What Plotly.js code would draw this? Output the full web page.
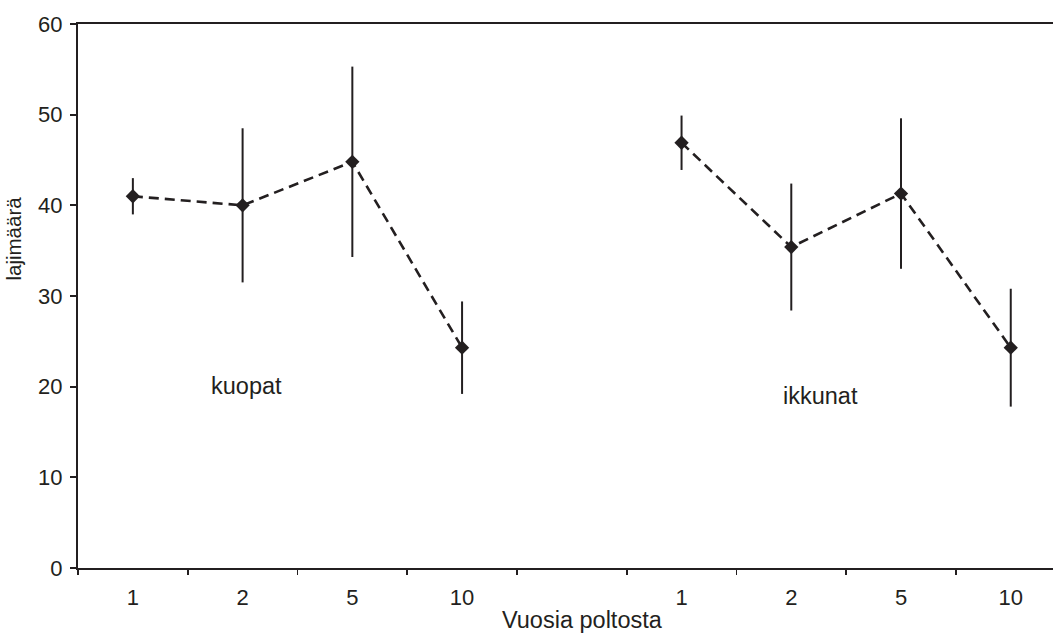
<!DOCTYPE html>
<html>
<head>
<meta charset="utf-8">
<script src="https://cdn.plot.ly/plotly-3.0.1.min.js"></script>
<style>html,body{margin:0;padding:0;background:#fff;}#chart{width:1053px;height:633px;}</style>
</head>
<body>
<div id="chart"></div>
<script>
// Data
const years = ["1", "2", "5", "10"];
const kuopatMean = [41.0, 40.0, 44.8, 24.3];
const kuopatErr = [2.0, 8.5, 10.5, 5.1];
const ikkunatMean = [46.9, 35.4, 41.3, 24.3];
const ikkunatErr = [3.0, 7.0, 8.3, 6.5];
const groupLabels = ["kuopat", "ikkunat"];
const xTitle = "Vuosia poltosta";
const yTitle = "lajimäärä";

const ink = "#231f20";
const gapSlot = years.length; // empty slot between the two groups
const kuopatX = years.map((_, i) => i);
const ikkunatX = years.map((_, i) => gapSlot + 1 + i);
const centerVals = kuopatX.concat(ikkunatX);
const centerText = years.concat(years);
const boundaryVals = [];
for (let i = 0; i < 2 * years.length + 1; i++) boundaryVals.push(i - 0.5);
const xRange = [-0.5, 8.385];

function series(xs, ys, err, name) {
  return {
    type: "scatter", mode: "lines+markers", name: name,
    x: xs, y: ys,
    line: {color: ink, width: 2.6, dash: "10px,6px"},
    marker: {symbol: "diamond", size: 11, color: ink},
    error_y: {type: "data", array: err, visible: true, color: ink, thickness: 2, width: 0},
    xaxis: "x", yaxis: "y", hoverinfo: "x+y"
  };
}

const data = [
  series(kuopatX, kuopatMean, kuopatErr, groupLabels[0]),
  series(ikkunatX, ikkunatMean, ikkunatErr, groupLabels[1]),
  {type: "scatter", mode: "markers", x: [null], y: [null], xaxis: "x2", yaxis: "y",
   showlegend: false, hoverinfo: "skip", marker: {opacity: 0}}
];

const layout = {
  width: 1053, height: 633,
  margin: {l: 78, r: 0, t: 24, b: 65, pad: 0},
  paper_bgcolor: "#fff", plot_bgcolor: "#fff",
  showlegend: false,
  font: {family: "Liberation Sans, Arial, sans-serif", color: ink, size: 22},
  xaxis: {
    range: xRange, tickmode: "array", tickvals: boundaryVals,
    showticklabels: false, ticks: "outside", ticklen: 5, tickwidth: 1.8, tickcolor: ink,
    showline: true, linecolor: ink, linewidth: 2.2, mirror: true,
    showgrid: false, zeroline: false
  },
  xaxis2: {
    overlaying: "x", anchor: "y", side: "bottom",
    range: xRange, tickmode: "array", tickvals: centerVals, ticktext: centerText,
    ticks: "", ticklabelstandoff: 14, tickfont: {size: 22, color: ink},
    showline: false, showgrid: false, zeroline: false
  },
  yaxis: {
    range: [0, 60], tickmode: "array", tickvals: [0, 10, 20, 30, 40, 50, 60],
    ticks: "outside", ticklen: 6, tickwidth: 1.8, tickcolor: ink,
    ticklabelstandoff: 3, tickfont: {size: 22, color: ink},
    showline: true, linecolor: ink, linewidth: 2.2,
    showgrid: false, zeroline: false
  },
  annotations: [
    {text: groupLabels[0], x: 1.04, y: 20.1, xref: "x", yref: "y", showarrow: false,
     font: {size: 23.5, color: ink}, xanchor: "center", yanchor: "middle"},
    {text: groupLabels[1], x: 6.27, y: 19.0, xref: "x", yref: "y", showarrow: false,
     font: {size: 23.5, color: ink}, xanchor: "center", yanchor: "middle"},
    {text: xTitle, x: 4.1, y: -0.095, xref: "x", yref: "paper", showarrow: false,
     font: {size: 23.5, color: ink}, xanchor: "center", yanchor: "middle"},
    {text: yTitle, x: -0.066, y: 36.3, xref: "paper", yref: "y", showarrow: false,
     textangle: -90, font: {size: 20.5, color: ink}, xanchor: "center", yanchor: "middle"}
  ]
};

Plotly.newPlot("chart", data, layout, {staticPlot: true, displayModeBar: false});
</script>
</body>
</html>
